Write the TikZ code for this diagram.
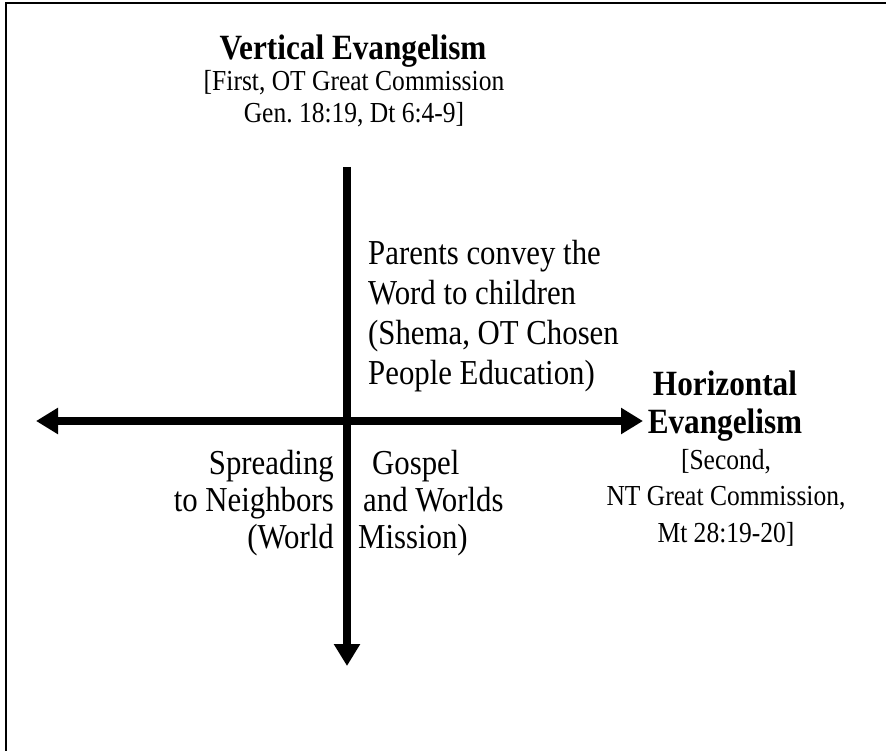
\documentclass[tikz,border=0pt]{standalone}
\usepackage{fontspec}
\setmainfont{Liberation Serif}[FakeStretch=0.88]
\usetikzlibrary{arrows.meta}

\tikzset{
  axisline/.style={line width=8pt, -{Triangle[width=25pt,length=22pt]}},
  heading/.style={font=\fontsize{35.5}{38}\selectfont\bfseries, align=center, inner sep=0pt},
  scripture/.style={font=\fontsize{29}{32}\selectfont, align=center, inner sep=0pt},
  bodytext/.style={font=\fontsize{35}{40}\selectfont, inner sep=0pt},
}

\begin{document}
\begin{tikzpicture}[x=1pt, y=-1pt]

  % --- page frame (only top and left edges show) ---
  \useasboundingbox (0,0) rectangle (886,751);
  \coordinate (frameTL) at (6,3);
  \coordinate (frameTR) at (886,3);
  \coordinate (frameBL) at (6,751);
  \draw[line width=2.5pt] (frameTR) -- (frameTL) -- (frameBL);

  % --- axis end points ---
  \coordinate (vtop) at (347,167);
  \coordinate (vbot) at (347,666);
  \coordinate (hleft) at (36,421);
  \coordinate (hright) at (643,421);
  \coordinate (centre) at (347,421);

  % --- axes (double arrow left-right, arrow down) ---
  \draw[axisline] (centre) -- (hleft);
  \draw[axisline] (centre) -- (hright);
  \draw[axisline] (vtop) -- (vbot);

  % --- vertical evangelism label ---
  \node[heading, anchor=base] (vtitle) at (353,60) {Vertical Evangelism};
  \node[scripture, anchor=north] (vref) at (354,70)
    {[First, OT Great Commission\\Gen.\ 18:19, Dt 6:4-9]};

  % --- horizontal evangelism label ---
  \node[heading, anchor=north] (htitle) at (725,371) {Horizontal\\Evangelism};
  \node[scripture, anchor=north, font=\fontsize{29}{36.5}\selectfont] (href) at (726,449)
    {[Second,\\NT Great Commission,\\Mt 28:19-20]};

  % --- quadrant texts ---
  \node[bodytext, align=left, anchor=north west] (parents) at (368,240)
    {Parents convey the\\Word to children\\(Shema, OT Chosen\\People Education)};
  \node[bodytext, align=right, anchor=north east, font=\fontsize{35}{37}\selectfont] (spreadL) at (334,450)
    {Spreading\\to Neighbors\\(World};
  \node[bodytext, align=left, anchor=north west, font=\fontsize{35}{37}\selectfont] (spreadR) at (358,450)
    {\hspace{14pt}Gospel\\\hspace{5pt}and Worlds\\Mission)};

\end{tikzpicture}
\end{document}
